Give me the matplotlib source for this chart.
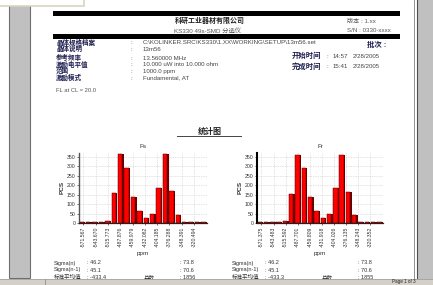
import matplotlib
matplotlib.use("Agg")
import matplotlib.pyplot as plt
from matplotlib.patches import Rectangle
import numpy as np

plt.rcParams['font.family'] = ['Liberation Sans', 'Noto Sans CJK SC', 'DejaVu Sans']

# ---------------- data ----------------
fs_counts = [3, 3, 3, 3, 10, 160, 365, 290, 140, 65, 28, 50, 185, 368, 168, 45, 5, 3, 3, 3]
fr_counts = [3, 3, 3, 3, 10, 155, 362, 290, 138, 62, 25, 50, 183, 360, 165, 42, 5, 3, 3, 3]
fs_ticklabels = ["-571.567", "-543.670", "-515.773", "-487.876", "-459.979",
                 "-432.082", "-404.185", "-376.288", "-348.391", "-320.494"]
fr_ticklabels = ["-571.375", "-543.483", "-515.592", "-487.701", "-459.809",
                 "-431.918", "-404.026", "-376.135", "-348.243", "-320.352"]
y_ticks = [0, 50, 100, 150, 200, 250, 300, 350]

header_company = "科研工业器材有限公司"
header_model = "KS330 49s-SMD 分选仪"
version_text = "版本 : 1.xx"
sn_text = "S/N : 0330-xxxx"
info_labels = ["晶体规格档案", "晶体说明", "参考频率", "激励电平值", "范围", "激励模式"]
info_values = ["C:\\KOLINKER.SRC\\KS330\\1.XX\\WORKING\\SETUP\\13m56.set", "13m56",
               "13.560000 MHz", "10.000 uW into 10.000 ohm", "1000.0 ppm", "Fundamental, AT"]
batch_label = "批次 :"
time_labels = ["开始时间", "完成时间"]
time_values = [("14:57", "2/28/2005"), ("15:41", "2/28/2005")]
fl_text = "FL at CL = 20.0"
stats_title = "统计图"
fs_stats = [("Sigma(n)", ": 46.2", "", ": 73.8"),
            ("Sigma(n-1)", ": 45.1", "", ": 70.6"),
            ("标准平均值", ": -433.4", "总数", ": 1856")]
fr_stats = [("Sigma(n)", ": 46.2", "", ": 73.8"),
            ("Sigma(n-1)", ": 45.1", "", ": 70.6"),
            ("标准平均值", ": -433.3", "总数", ": 1855")]

W, H = 433, 285
fig = plt.figure(figsize=(W / 100, H / 100), dpi=100)
fig.patch.set_facecolor('white')

bg = fig.add_axes([0, 0, 1, 1])
bg.set_xlim(0, W)
bg.set_ylim(H, 0)
bg.axis('off')

# window chrome
bg.add_patch(Rectangle((9, 5), 21, 273, facecolor='#C0C0C0', edgecolor='#707070', lw=0.8))
bg.add_patch(Rectangle((-2, -2), 86, 7.5, facecolor='white', edgecolor='#D8D4C4', lw=1.2))
bg.add_patch(Rectangle((417, -2), 20, 290, facecolor='#C0C0C0', edgecolor='#505050', lw=0.8))
bg.plot([413.5, 413.5], [0, 278], color='#909090', lw=0.7)
bg.add_patch(Rectangle((-2, 278.5), W + 4, 10, facecolor='#D4D0C8', edgecolor='#A0A0A0', lw=0.6, zorder=5))
bg.plot([45, 45], [279, 285], color='#909090', lw=0.6, zorder=6)
bg.text(404, 282, "Page 1 of 3", fontsize=3.3, ha='center', va='center', color='#222222', zorder=6)

# header
bg.add_patch(Rectangle((53, 10.8), 347, 4.8, facecolor='black', edgecolor='none'))
bg.add_patch(Rectangle((53, 34.3), 347, 4.8, facecolor='black', edgecolor='none'))
bg.text(210, 21, header_company, fontsize=5.0, fontweight='bold', ha='center', va='center', color='#222222')
bg.text(208, 30.8, header_model, fontsize=4.5, ha='center', va='center', color='#555555')
bg.text(347, 21, version_text, fontsize=4.4, ha='left', va='center', color='#555555')
bg.text(347, 30.5, sn_text, fontsize=4.4, ha='left', va='center', color='#555555')

info_y = [43, 49.5, 58.5, 65, 71.5, 78]
for lab, val, y in zip(info_labels, info_values, info_y):
    bg.text(56, y, lab, fontsize=4.7, fontweight='bold', ha='left', va='center', color='#1E1E50')
    bg.text(130, y, ":", fontsize=4.4, ha='left', va='center', color='#444444')
    bg.text(143, y, val, fontsize=4.45, ha='left', va='center', color='#444444')

bg.text(367, 45, batch_label, fontsize=5.3, fontweight='bold', ha='left', va='center', color='#1E1E50')
for lab, (tm, dt), y in zip(time_labels, time_values, [56, 67]):
    bg.text(292, y, lab, fontsize=5.3, fontweight='bold', ha='left', va='center', color='#1E1E50')
    bg.text(326, y, ":", fontsize=4.4, ha='left', va='center', color='#444444')
    bg.text(333, y, tm, fontsize=4.4, ha='left', va='center', color='#444444')
    bg.text(353, y, dt, fontsize=4.4, ha='left', va='center', color='#444444')

bg.text(56, 90, fl_text, fontsize=4.2, ha='left', va='center', color='#555555')

bg.text(210, 132, stats_title, fontsize=5.8, fontweight='bold', ha='center', va='center', color='#222222')
bg.plot([177, 241], [136.3, 136.3], color='#444444', lw=0.7)

# stats tables
def stats_table(rows, x0, ys):
    for (a, b, c, d), y in zip(rows, ys):
        bg.text(x0, y, a, fontsize=4.0, ha='left', va='center', color='#333333')
        bg.text(x0 + 33, y, b, fontsize=4.0, ha='left', va='center', color='#333333')
        bg.text(x0 + 90, y, c, fontsize=4.0, ha='left', va='center', color='#333333')
        bg.text(x0 + 126, y, d, fontsize=4.0, ha='left', va='center', color='#333333')

stats_table(fs_stats, 54, [263, 270, 277.5])
stats_table(fr_stats, 232, [263, 270, 277.5])

# charts
def chart(x_left, x_right, counts, ticklabels, title, spine_color, spine_lw):
    y0 = 223
    ymax = 372
    ytop = y0 - ymax * 66 / 350
    ax = fig.add_axes([x_left / W, (H - y0) / H, (x_right - x_left) / W, (y0 - ytop) / H])
    n = len(counts)
    idx = np.arange(n)
    ax.bar(idx + 0.12, counts, width=0.76, color='#6A0000', edgecolor='none', zorder=2)
    ax.bar(idx - 0.06, counts, width=0.70, color='#FF0000', edgecolor='#4A0000', lw=0.35, zorder=3)
    ax.set_xlim(-0.5, n - 0.5)
    ax.set_ylim(0, ymax)
    tick_pos = 0.2 + 1.92 * np.arange(len(ticklabels))
    ax.set_xticks(tick_pos)
    ax.set_xticklabels(ticklabels, rotation=90, fontsize=3.7, color='#333333')
    ax.set_yticks(y_ticks)
    ax.set_yticklabels([str(v) for v in y_ticks], fontsize=3.7, color='#333333')
    ax.tick_params(axis='both', length=1.5, width=0.5, pad=1, colors='#333333')
    ax.grid(True, color='#C8C8C8', lw=0.5, ls=(0, (1, 1.5)), zorder=0)
    ax.set_axisbelow(True)
    for s in ['top', 'right']:
        ax.spines[s].set_visible(False)
    ax.spines['left'].set_color(spine_color)
    ax.spines['left'].set_linewidth(spine_lw)
    ax.spines['bottom'].set_color('#222222')
    ax.spines['bottom'].set_linewidth(0.9)
    ax.set_title(title, fontsize=4.6, pad=3.5, color='#333333')
    ax.set_xlabel("ppm", fontsize=4.6, labelpad=3, color='#333333')
    ax.set_ylabel("PCS", fontsize=4.6, fontweight='bold', labelpad=2, color='#333333')
    ax.set_facecolor('none')
    return ax

chart(79, 207, fs_counts, fs_ticklabels, "Fs", '#555555', 1.0)
chart(257, 383, fr_counts, fr_ticklabels, "Fr", 'black', 1.5)

fig.savefig("out.png", dpi=100)
